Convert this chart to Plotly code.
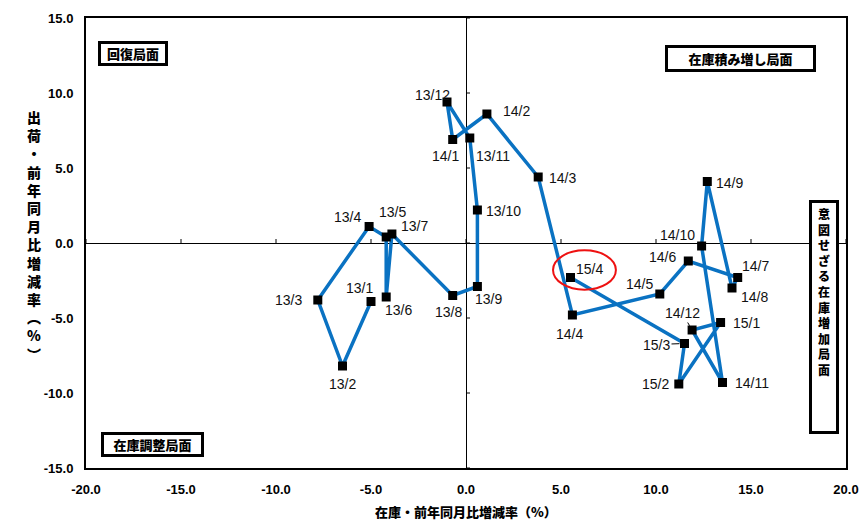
import plotly.graph_objects as go

# ---- data ----
months = ["13/1", "13/2", "13/3", "13/4", "13/5", "13/6", "13/7", "13/8", "13/9", "13/10",
          "13/11", "13/12", "14/1", "14/2", "14/3", "14/4", "14/5", "14/6", "14/7", "14/8",
          "14/9", "14/10", "14/11", "14/12", "15/1", "15/2", "15/3", "15/4"]
inventory = [-5.0, -6.5, -7.8, -5.1, -4.2, -4.2, -3.9, -0.7, 0.6, 0.6,
             0.2, -1.0, -0.7, 1.1, 3.8, 5.6, 10.2, 11.7, 14.3, 14.0,
             12.7, 12.4, 13.5, 11.9, 13.4, 11.2, 11.5, 5.5]
shipments = [-3.9, -8.2, -3.8, 1.1, 0.4, -3.6, 0.6, -3.5, -2.9, 2.2,
             7.0, 9.4, 6.9, 8.6, 4.4, -4.8, -3.4, -1.2, -2.3, -3.0,
             4.1, -0.2, -9.3, -5.8, -5.3, -9.4, -6.7, -2.3]
x_ticks = [-20, -15, -10, -5, 0, 5, 10, 15, 20]
x_tick_text = ["-20.0", "-15.0", "-10.0", "-5.0", "0.0", "5.0", "10.0", "15.0", "20.0"]
y_ticks = [-15, -10, -5, 0, 5, 10, 15]
y_tick_text = ["-15.0", "-10.0", "-5.0", "0.0", "5.0", "10.0", "15.0"]

# label offsets in pixels (dx, dy screen; dy positive = down)
label_offsets = [(-12, -14), (0, 18), (-29, 0), (-22, -10), (6, -25), (12, 13), (23, -8),
                 (-4, 16), (11, 12), (26, 1), (23, 18), (-15, -7), (-7, 16), (30, -3),
                 (24, 1), (-3, 19), (-20, -10), (-26, -4), (18, -12), (22, 9), (22, 1),
                 (-24, -11), (29, 0), (-10, -17), (26, 0), (-23, 0), (-28, 1), (19, -9)]
leader_labels = {"14/12", "15/3"}

blue = "#0A72C2"
label_font = dict(family="Liberation Sans, Arial, sans-serif", size=14, color="#111111")
jp = "Noto Sans CJK JP"

def jp_font(size):
    return dict(family=jp, size=size, color="black", weight=900)

fig = go.Figure()
fig.add_trace(go.Scatter(
    x=inventory, y=shipments, mode="lines+markers",
    line=dict(color=blue, width=3.5),
    marker=dict(symbol="square", size=9, color="black"),
    showlegend=False, hoverinfo="skip",
))

annotations = []
for lab, xv, yv, (dx, dy) in zip(months, inventory, shipments, label_offsets):
    if lab in leader_labels:
        annotations.append(dict(x=xv, y=yv, text=lab, showarrow=True, arrowhead=0,
                                arrowwidth=1, arrowcolor="black", ax=dx, ay=dy,
                                standoff=5, font=label_font))
    else:
        annotations.append(dict(x=xv, y=yv, text=lab, showarrow=False,
                                xshift=dx, yshift=-dy, font=label_font))

# quadrant labels
box_common = dict(showarrow=False, bordercolor="black", borderwidth=3, bgcolor="white",
                  xref="x", yref="y")
annotations.append(dict(text="回復局面", x=-19.35, y=13.5, xanchor="left", yanchor="top",
                        font=jp_font(13), width=62, height=17, borderpad=1, **box_common))
annotations.append(dict(text="在庫積み増し局面", x=10.45, y=13.2, xanchor="left", yanchor="top",
                        font=jp_font(13), width=143, height=19, borderpad=1, **box_common))
annotations.append(dict(text="在庫調整局面", x=-19.2, y=-12.6, xanchor="left", yanchor="top",
                        font=jp_font(13), width=95, height=17, borderpad=1, **box_common))
vert_text = "<br>".join(list("意図せざる在庫増加局面"))
annotations.append(dict(text=vert_text, x=18.05, y=2.9, xanchor="left", yanchor="top",
                        font=jp_font(12), valign="top",
                        width=20, height=224, borderpad=2, **box_common))

# axis titles
y_title = "<br>".join(["出", "荷", "・", "前", "年", "同", "月", "比", "増", "減", "率", "︵", "%", "︶"])
annotations.append(dict(text=y_title, xref="paper", yref="paper",
                        x=0, y=0.5, xshift=-61, yshift=8, showarrow=False,
                        font=jp_font(14)))
annotations.append(dict(text="在庫・前年同月比増減率（%）", xref="paper", yref="paper",
                        x=0.5, y=0, yshift=-43, showarrow=False, yanchor="middle",
                        font=jp_font(13)))

shapes = []
# tick marks on zero lines
for tv in x_ticks:
    shapes.append(dict(type="line", xref="x", yref="y", x0=tv, x1=tv,
                       ysizemode="pixel", yanchor=0, y0=0, y1=4,
                       line=dict(color="black", width=1)))
for tv in y_ticks:
    shapes.append(dict(type="line", xref="x", yref="y", y0=tv, y1=tv,
                       xsizemode="pixel", xanchor=0, x0=0, x1=4,
                       line=dict(color="black", width=1)))
# red ellipse highlighting the latest month
shapes.append(dict(type="circle", xref="x", yref="y", x0=4.58, x1=7.89, y0=-3.11, y1=-0.49,
                   line=dict(color="#EE1111", width=2)))

fig.update_layout(
    width=864, height=521,
    margin=dict(l=86, r=18, t=18, b=53, autoexpand=False),
    paper_bgcolor="white", plot_bgcolor="white",
    annotations=annotations, shapes=shapes,
    xaxis=dict(range=[-20, 20], tickvals=x_ticks, ticktext=x_tick_text, automargin=False,
               showgrid=False, zeroline=True, zerolinecolor="black", zerolinewidth=1,
               showline=True, linecolor="black", linewidth=2, mirror=True,
               ticks="", ticklabelstandoff=8,
               tickfont=dict(family="Liberation Sans, Arial", size=13, color="black", weight="bold")),
    yaxis=dict(range=[-15, 15], tickvals=y_ticks, ticktext=y_tick_text, automargin=False,
               showgrid=False, zeroline=True, zerolinecolor="black", zerolinewidth=1,
               showline=True, linecolor="black", linewidth=2, mirror=True,
               ticks="", ticklabelstandoff=8,
               tickfont=dict(family="Liberation Sans, Arial", size=13, color="black", weight="bold")),
)

fig.write_html("out.html")
